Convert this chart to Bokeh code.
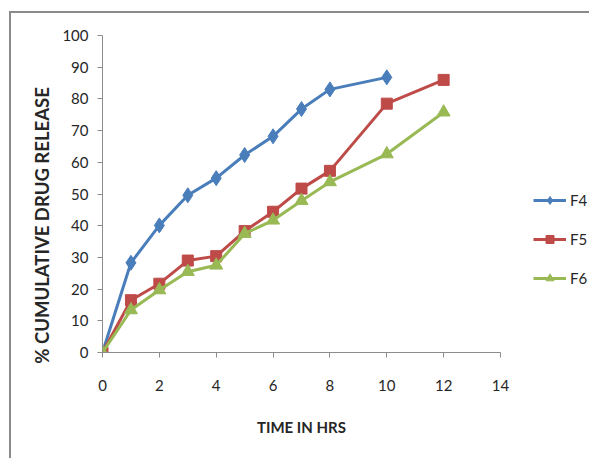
from bokeh.plotting import figure
from bokeh.models import Range1d, Legend, LegendItem, FixedTicker
from bokeh.embed import file_html
from bokeh.resources import INLINE

# Data
time_f4 = [0, 1, 2, 3, 4, 5, 6, 7, 8, 10]
f4 = [0, 28.3, 40.1, 49.6, 55.0, 62.3, 68.2, 76.8, 83.0, 86.8]
time_f56 = [0, 1, 2, 3, 4, 5, 6, 7, 8, 10, 12]
f5 = [0, 16.5, 21.7, 29.0, 30.4, 38.3, 44.4, 51.7, 57.3, 78.5, 86.0]
f6 = [0, 13.4, 19.7, 25.5, 27.5, 37.5, 41.7, 47.9, 53.8, 62.6, 75.8]
x_ticks = [0, 2, 4, 6, 8, 10, 12, 14]
y_ticks = [0, 10, 20, 30, 40, 50, 60, 70, 80, 90, 100]
x_max = 14
y_max = 100

BLUE = "#4A7EBB"
RED = "#BE4B48"
GREEN = "#98B954"
AXIS = "#8C8C8C"
TXT = "#262626"
FONT = "Lato"

# plot frame spans 489 px; the axis (0..14) occupies the first 398 px,
# the remainder holds the legend as in the reference
FRAME_W = 489
AXIS_W = 398
p = figure(width=580, height=447, output_backend="svg", toolbar_location=None,
           x_range=Range1d(0, x_max * FRAME_W / AXIS_W), y_range=Range1d(0, y_max),
           min_border_left=91, min_border_right=0, min_border_top=22, min_border_bottom=108)
p.margin = (11, 0, 0, 9)
p.styles = {"border-top": "2px solid #8A8A8A", "border-left": "2px solid #8A8A8A"}
p.outline_line_color = None
p.grid.visible = False

r4l = p.line(time_f4, f4, line_color=BLUE, line_width=3)
r4m = p.scatter(time_f4, f4, marker="diamond", size=15, fill_color=BLUE, line_color=BLUE)
r5l = p.line(time_f56, f5, line_color=RED, line_width=3)
r5m = p.scatter(time_f56, f5, marker="square", size=11, fill_color=RED, line_color=RED)
r6l = p.line(time_f56, f6, line_color=GREEN, line_width=3)
r6m = p.scatter(time_f56, f6, marker="triangle", size=13, fill_color=GREEN, line_color=GREEN)

for ax in (p.xaxis[0], p.yaxis[0]):
    ax.axis_line_color = AXIS
    ax.major_tick_line_color = AXIS
    ax.major_tick_in = 0
    ax.major_tick_out = 5
    ax.minor_tick_line_color = None
    ax.major_label_text_font = FONT
    ax.major_label_text_font_size = "15px"
    ax.major_label_text_color = TXT
    ax.axis_label_text_font = FONT
    ax.axis_label_text_font_style = "bold"
    ax.axis_label_text_color = TXT

p.xaxis.bounds = (0, x_max)
p.xaxis.ticker = FixedTicker(ticks=x_ticks)
p.yaxis.ticker = FixedTicker(ticks=y_ticks)
p.xaxis.axis_label = "TIME IN HRS" + "\u00a0" * 25
p.yaxis.axis_label = "% CUMULATIVE DRUG RELEASE" + "\u00a0" * 14
p.xaxis.axis_label_text_font_size = "15px"
p.yaxis.axis_label_text_font_size = "18.5px"
p.xaxis.major_label_standoff = 22
p.yaxis.major_label_standoff = 9
p.xaxis.axis_label_standoff = 24
p.yaxis.axis_label_standoff = 6

legend = Legend(items=[
    LegendItem(label="F4", renderers=[r4l, r4m]),
    LegendItem(label="F5", renderers=[r5l, r5m]),
    LegendItem(label="F6", renderers=[r6l, r6m]),
], location=(431, 64))
legend.border_line_color = None
legend.background_fill_alpha = 0
legend.padding = 0
legend.margin = 0
legend.spacing = 19
legend.glyph_height = 20
legend.label_height = 20
legend.glyph_width = 33
legend.label_standoff = 4
legend.label_text_font = FONT
legend.label_text_font_size = "15px"
legend.label_text_color = TXT
p.add_layout(legend)

open("out.html", "w").write(file_html(p, INLINE))
